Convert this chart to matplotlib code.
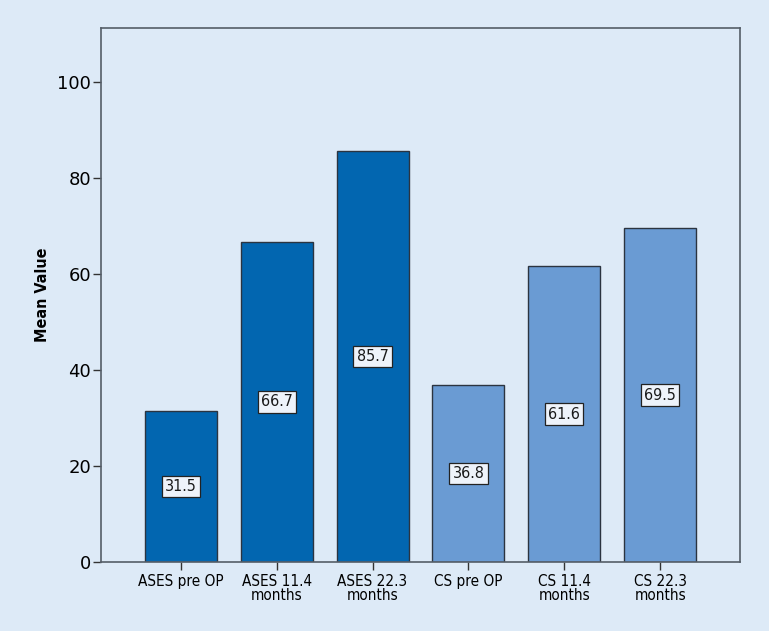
import matplotlib.pyplot as plt
import numpy as np

categories = ['ASES pre OP', 'ASES 11.4\nmonths', 'ASES 22.3\nmonths',
              'CS pre OP', 'CS 11.4\nmonths', 'CS 22.3\nmonths']
values = [31.5, 66.7, 85.7, 36.8, 61.6, 69.5]
bar_colors = ['#0266b0', '#0266b0', '#0266b0', '#6a9bd3', '#6a9bd3', '#6a9bd3']

bg = '#ddeaf7'
plt.rcParams['font.family'] = ['DejaVu Sans']
plt.rcParams['font.stretch'] = 'condensed'

fig = plt.figure(figsize=(7.69, 6.31), dpi=100, facecolor=bg)
ax = fig.add_axes([0.1313, 0.1094, 0.8310, 0.8462])
ax.set_facecolor(bg)

x = np.arange(len(categories))
ax.bar(x, values, width=0.75, color=bar_colors, edgecolor='#2b3440', linewidth=1.0, zorder=2)

# value boxes in the middle of each bar
for xi, v in zip(x, values):
    ax.text(xi, v / 2, f'{v:.1f}', ha='center', va='center', fontsize=11.5,
            fontstretch='condensed', color='#1a1a1a', zorder=3,
            bbox=dict(boxstyle='square,pad=0.2', facecolor='#eef3fa', edgecolor='#222222', linewidth=0.9))

ax.set_xlim(-0.833, 5.833)
ax.set_ylim(0, 111.25)
ax.set_yticks([0, 20, 40, 60, 80, 100])
ax.set_xticks(x)
ax.set_xticklabels(categories, fontsize=11, linespacing=0.85, fontstretch='condensed')
ax.tick_params(axis='y', labelsize=13, length=6, width=1, color='#333333', pad=1)
ax.tick_params(axis='x', length=6, width=1, color='#333333', pad=3)
for t in ax.get_yticklabels():
    t.set_fontstretch('normal')

for s in ax.spines.values():
    s.set_color('#555e68')
    s.set_linewidth(1.2)

ax.set_ylabel('Mean Value', fontsize=11.5, fontweight='bold', labelpad=5)

fig.savefig('out.png', dpi=100, facecolor=bg)
